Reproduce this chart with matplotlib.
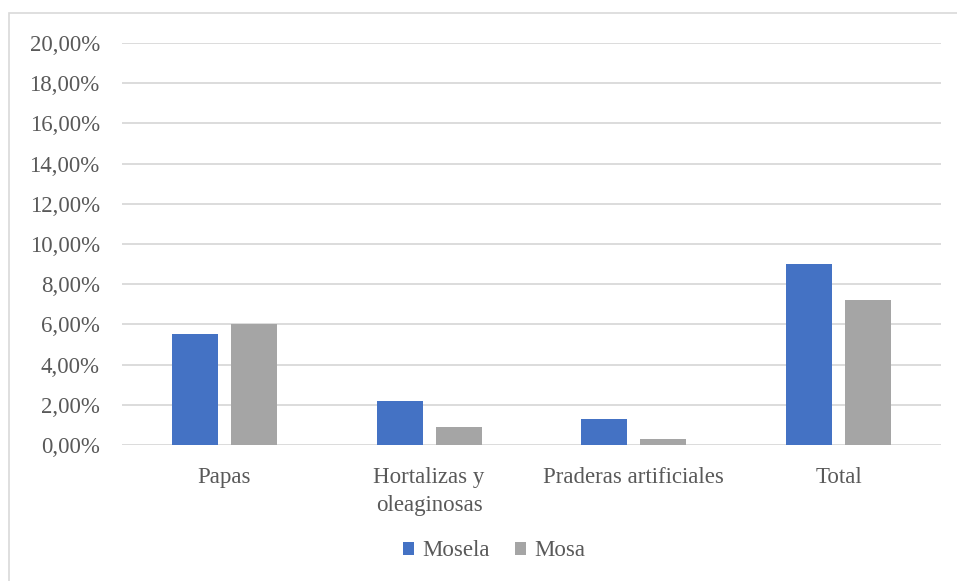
import matplotlib
matplotlib.use("Agg")
import matplotlib.pyplot as plt
from matplotlib.patches import Rectangle
from matplotlib.ticker import FuncFormatter
import numpy as np

categories = ["Papas", "Hortalizas y\noleaginosas", "Praderas artificiales", "Total"]
mosela = [0.055, 0.022, 0.013, 0.090]
mosa = [0.060, 0.009, 0.003, 0.072]
series_names = ["Mosela", "Mosa"]

plt.rcParams["font.family"] = ["Liberation Serif", "DejaVu Serif"]
TEXT = "#595959"
GRID = "#D9D9D9"

W, H = 957, 581
fig = plt.figure(figsize=(W / 100, H / 100), dpi=100)

# outer chart frame (only left and top edges fall inside the canvas)
fig.patches.append(Rectangle((9 / W, -0.2), 1.2, 1.2 - 13 / H, transform=fig.transFigure,
                             fill=False, edgecolor=GRID, linewidth=1.2))

left, right, top, bottom = 122, 941, 43, 445
ax = fig.add_axes([left / W, 1 - bottom / H, (right - left) / W, (bottom - top) / H])

x = np.arange(len(categories))
bw = 0.225
gap = 0.063
off = (bw + gap) / 2
ax.bar(x - off, mosela, width=bw, color="#4472C4", label=series_names[0], zorder=3)
ax.bar(x + off, mosa, width=bw, color="#A5A5A5", label=series_names[1], zorder=3)

ax.set_xlim(-0.5, len(categories) - 0.5)
ax.set_ylim(0, 0.20)
ax.set_yticks(np.arange(0, 0.2001, 0.02))
ax.yaxis.set_major_formatter(FuncFormatter(lambda v, p: f"{v*100:.2f}%".replace(".", ",")))
ax.set_xticks(x)
ax.set_xticklabels(categories, linespacing=1.45)
ax.tick_params(axis="both", length=0, labelsize=16.5, colors=TEXT)
ax.tick_params(axis="y", pad=16)
ax.tick_params(axis="x", pad=16)
for s in ax.spines.values():
    s.set_visible(False)
ax.grid(axis="y", color=GRID, linewidth=1.3, zorder=0)
ax.set_axisbelow(True)

leg = fig.legend(loc="center", bbox_to_anchor=(494 / W, 1 - 551 / H), ncol=2, frameon=False,
                 fontsize=16.5, handlelength=0.5, handleheight=0.5, handletextpad=0.35,
                 columnspacing=1.1, labelcolor=TEXT)

fig.savefig("out.png", dpi=100)
